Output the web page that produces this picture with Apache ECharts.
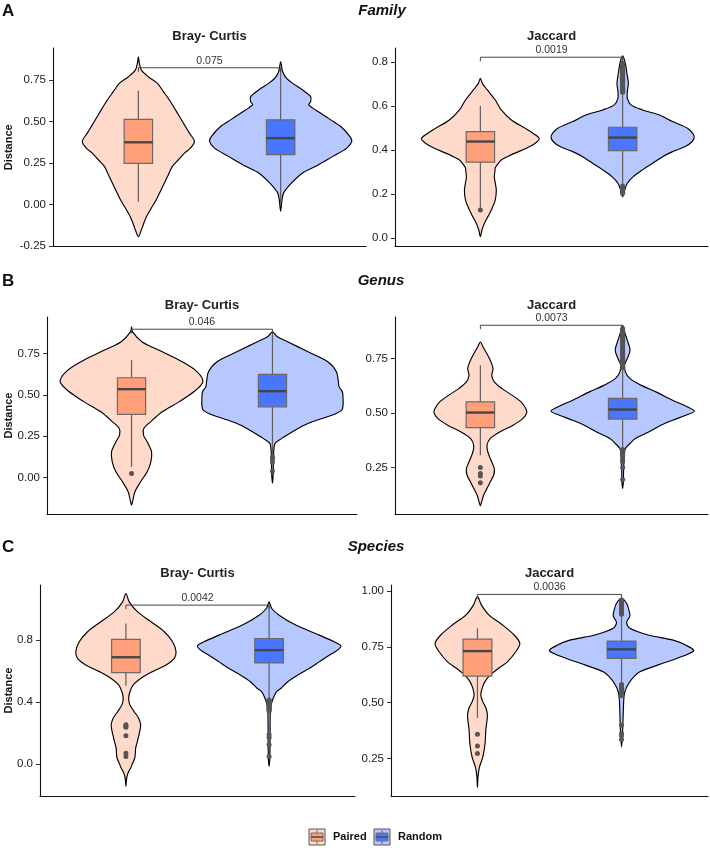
<!DOCTYPE html>
<html><head><meta charset="utf-8">
<script src="https://cdn.jsdelivr.net/npm/echarts@6/dist/echarts.min.js"></script>
<style>html,body{margin:0;padding:0;background:#fff}#c{width:710px;height:848px}</style>
</head><body><div id="c"></div>
<script>
// ---------------- DATA ----------------
const groups = ['Paired', 'Random'];
const rowLetters = ['A', 'B', 'C'];
const rowTitles = ['Family', 'Genus', 'Species'];
const panelNames = ['Bray- Curtis', 'Jaccard', 'Bray- Curtis', 'Jaccard', 'Bray- Curtis', 'Jaccard'];
const pLabels = ['0.075', '0.0019', '0.046', '0.0073', '0.0042', '0.0036'];
const bracketY = [0.824, 0.823, 0.897, 0.903, 1.026, 0.985];
const yTickLabels = [
  ['-0.25', '0.00', '0.25', '0.50', '0.75'],
  ['0.0', '0.2', '0.4', '0.6', '0.8'],
  ['0.00', '0.25', '0.50', '0.75'],
  ['0.25', '0.50', '0.75'],
  ['0.0', '0.4', '0.8'],
  ['0.25', '0.50', '0.75', '1.00']
];
// [lower whisker, Q1, median, Q3, upper whisker]
const boxPaired = [
  [0.017, 0.248, 0.375, 0.513, 0.686],
  [0.135, 0.345, 0.439, 0.484, 0.601],
  [0.064, 0.381, 0.534, 0.603, 0.710],
  [0.306, 0.433, 0.502, 0.551, 0.719],
  [0.504, 0.590, 0.689, 0.804, 0.907],
  [0.432, 0.619, 0.731, 0.785, 0.833]
];
const boxRandom = [
  [0.000, 0.300, 0.400, 0.510, 0.820],
  [0.240, 0.398, 0.457, 0.504, 0.655],
  [0.140, 0.427, 0.522, 0.623, 0.880],
  [0.337, 0.472, 0.516, 0.567, 0.700],
  [0.418, 0.652, 0.735, 0.810, 1.030],
  [0.585, 0.698, 0.739, 0.776, 0.890]
];
const outPaired = [
  [],
  [0.127],
  [0.024],
  [0.250, 0.222, 0.211, 0.179],
  [0.252, 0.245, 0.237, 0.181, 0.069, 0.047],
  [0.359, 0.306, 0.272]
];
const outRandom = [
  [],
  [0.664, 0.668, 0.673, 0.677, 0.682, 0.688, 0.692, 0.697, 0.703, 0.708, 0.712, 0.718, 0.723, 0.728,
   0.733, 0.739, 0.744, 0.748, 0.754, 0.759, 0.764, 0.769, 0.773, 0.778, 0.783, 0.787, 0.792, 0.796,
   0.236, 0.231, 0.227, 0.222, 0.217, 0.212, 0.207, 0.203],
  [0.125, 0.111, 0.091, 0.038],
  [0.708, 0.714, 0.719, 0.725, 0.731, 0.737, 0.742, 0.748, 0.754, 0.759, 0.766, 0.772, 0.777, 0.783,
   0.789, 0.795, 0.801, 0.806, 0.812, 0.818, 0.824, 0.830, 0.836, 0.842, 0.848, 0.853, 0.859, 0.865,
   0.871, 0.876, 0.882, 0.888,
   0.332, 0.327, 0.321, 0.316, 0.310, 0.304, 0.283, 0.276, 0.250, 0.195],
  [0.413, 0.407, 0.401, 0.395, 0.389, 0.382, 0.376, 0.370, 0.364, 0.358, 0.352, 0.346, 0.341,
   0.190, 0.170, 0.123, 0.047],
  [0.896, 0.901, 0.906, 0.912, 0.917, 0.922, 0.927, 0.933, 0.938, 0.943, 0.949, 0.955, 0.960,
   0.581, 0.576, 0.571, 0.566, 0.561, 0.556, 0.551, 0.546, 0.541, 0.536, 0.531,
   0.399, 0.362, 0.352, 0.335]
];
// violin profiles: [distance, half width (x-axis units)]
const violinPaired = [
  [[0.89,0],[0.85,0.007],[0.81,0.021],[0.77,0.070],[0.73,0.134],[0.68,0.176],[0.63,0.218],[0.58,0.254],
   [0.53,0.289],[0.48,0.324],[0.43,0.359],[0.38,0.394],[0.34,0.366],[0.31,0.324],[0.27,0.282],[0.23,0.239],
   [0.18,0.211],[0.13,0.183],[0.08,0.155],[0.03,0.127],[-0.02,0.092],[-0.075,0.056],[-0.12,0.035],
   [-0.16,0.018],[-0.195,0]],
  [[0.727,0],[0.704,0.014],[0.674,0.049],[0.628,0.105],[0.583,0.147],[0.537,0.218],[0.499,0.316],
   [0.476,0.372],[0.453,0.414],[0.431,0.386],[0.408,0.323],[0.385,0.239],[0.370,0.190],[0.355,0.147],
   [0.340,0.126],[0.320,0.105],[0.302,0.102],[0.279,0.098],[0.249,0.105],[0.218,0.112],[0.173,0.105],
   [0.127,0.077],[0.097,0.053],[0.066,0.028],[0.036,0.011],[0.006,0]],
  [[0.911,0],[0.881,0.007],[0.820,0.076],[0.760,0.218],[0.700,0.359],[0.639,0.466],[0.578,0.506],
   [0.518,0.442],[0.457,0.336],[0.397,0.218],[0.336,0.135],[0.296,0.087],[0.256,0.085],[0.215,0.111],
   [0.155,0.142],[0.094,0.137],[0.034,0.111],[-0.027,0.064],[-0.087,0.024],[-0.148,0.007],[-0.168,0]],
  [[0.826,0],[0.803,0.019],[0.765,0.052],[0.734,0.075],[0.704,0.089],[0.673,0.080],[0.643,0.098],
   [0.612,0.152],[0.582,0.222],[0.551,0.286],[0.521,0.319],[0.502,0.326],[0.475,0.300],[0.444,0.230],
   [0.413,0.136],[0.383,0.070],[0.352,0.047],[0.322,0.052],[0.283,0.075],[0.245,0.098],[0.215,0.094],
   [0.184,0.070],[0.154,0.047],[0.123,0.023],[0.092,0.009],[0.074,0]],
  [[1.101,0],[1.047,0.023],[0.982,0.082],[0.918,0.175],[0.854,0.268],[0.789,0.326],[0.725,0.350],
   [0.682,0.338],[0.639,0.280],[0.596,0.186],[0.553,0.105],[0.510,0.051],[0.466,0.028],[0.424,0.019],
   [0.381,0.028],[0.337,0.058],[0.295,0.089],[0.252,0.103],[0.216,0.098],[0.187,0.091],[0.134,0.077],
   [0.101,0.068],[0.042,0.063],[0.0,0.045],[-0.023,0.035],[-0.061,0.014],[-0.10,0.004],[-0.146,0]],
  [[0.975,0],[0.937,0.028],[0.892,0.081],[0.848,0.174],[0.803,0.255],[0.765,0.294],[0.728,0.266],
   [0.683,0.208],[0.653,0.144],[0.623,0.088],[0.593,0.051],[0.564,0.032],[0.534,0.023],[0.504,0.037],
   [0.474,0.060],[0.444,0.069],[0.414,0.065],[0.377,0.058],[0.318,0.053],[0.256,0.037],[0.211,0.014],
   [0.170,0.004],[0.121,0]]
];
const violinRandom = [
  [[0.86,0],[0.80,0.014],[0.76,0.042],[0.73,0.085],[0.69,0.155],[0.65,0.211],[0.62,0.211],[0.60,0.197],
   [0.55,0.282],[0.51,0.352],[0.47,0.423],[0.41,0.486],[0.38,0.500],[0.34,0.465],[0.29,0.366],[0.23,0.246],
   [0.19,0.155],[0.13,0.077],[0.07,0.021],[0.03,0.010],[-0.04,0]],
  [[0.829,0],[0.795,0.019],[0.750,0.030],[0.704,0.040],[0.666,0.033],[0.636,0.033],[0.606,0.059],
   [0.583,0.140],[0.560,0.258],[0.530,0.351],[0.500,0.456],[0.477,0.492],[0.458,0.503],[0.438,0.487],
   [0.416,0.440],[0.393,0.351],[0.370,0.281],[0.340,0.211],[0.310,0.140],[0.279,0.075],[0.249,0.033],
   [0.218,0.014],[0.188,0]],
  [[0.881,0],[0.851,0.035],[0.820,0.111],[0.760,0.253],[0.699,0.395],[0.639,0.454],[0.578,0.468],
   [0.548,0.473],[0.518,0.496],[0.478,0.501],[0.437,0.501],[0.407,0.492],[0.377,0.426],[0.347,0.319],
   [0.316,0.225],[0.276,0.142],[0.236,0.066],[0.206,0.019],[0.155,0.009],[0.094,0.007],[0.014,0.005],
   [-0.036,0]],
  [[0.903,0],[0.872,0.014],[0.834,0.033],[0.788,0.052],[0.750,0.033],[0.722,0.014],[0.689,0.019],
   [0.658,0.052],[0.628,0.129],[0.597,0.234],[0.559,0.351],[0.528,0.457],[0.508,0.504],[0.490,0.445],
   [0.467,0.351],[0.444,0.269],[0.413,0.183],[0.383,0.089],[0.360,0.052],[0.337,0.019],[0.306,0.012],
   [0.245,0.007],[0.184,0.005],[0.154,0]],
  [[1.047,0],[1.004,0.019],[0.961,0.070],[0.897,0.186],[0.832,0.350],[0.789,0.455],[0.763,0.501],
   [0.735,0.478],[0.702,0.420],[0.659,0.350],[0.616,0.280],[0.573,0.198],[0.529,0.128],[0.487,0.082],
   [0.465,0.051],[0.422,0.028],[0.379,0.014],[0.337,0.009],[0.252,0.007],[0.144,0.007],[0.037,0.005],
   [-0.017,0]],
  [[0.967,0],[0.945,0.035],[0.915,0.051],[0.889,0.058],[0.859,0.035],[0.833,0.058],[0.803,0.185],
   [0.780,0.359],[0.758,0.444],[0.732,0.500],[0.698,0.382],[0.668,0.250],[0.638,0.127],[0.608,0.074],
   [0.578,0.042],[0.548,0.023],[0.519,0.016],[0.459,0.012],[0.399,0.009],[0.340,0.005],[0.302,0]]
];

// ---------------- LAYOUT / STYLE ----------------
const FONT = '"Liberation Sans", Arial, Helvetica, sans-serif';
const gridsPx = [
  {left: 53, top: 48, width: 313, height: 198.5},
  {left: 395, top: 48, width: 313, height: 198.5},
  {left: 47, top: 317, width: 310, height: 197},
  {left: 395, top: 317, width: 313, height: 197},
  {left: 40, top: 585, width: 315, height: 211},
  {left: 391, top: 585, width: 317, height: 211}
];
const yMin = [-0.253, -0.039, -0.222, 0.036, -0.208, 0.082];
const yMax = [0.943, 0.865, 0.971, 0.941, 1.156, 1.027];
const violinFill = ['#FFD9CA', '#B6C8FF'];
const boxFill = ['#FFA07A', '#4876FF'];

const grid = [], xAxis = [], yAxis = [], series = [];
for (let p = 0; p < 6; p++) {
  const g = gridsPx[p];
  grid.push({left: g.left, top: g.top, width: g.width, height: g.height, containLabel: false, outerBoundsMode: 'none'});
  xAxis.push({
    type: 'value', gridIndex: p, min: 0.4, max: 2.6,
    axisLine: {show: true, onZero: false, lineStyle: {color: '#111', width: 1.1}},
    axisTick: {show: false}, axisLabel: {show: false}, splitLine: {show: false}
  });
  const tl = yTickLabels[p];
  const tv = tl.map(Number);
  yAxis.push({
    type: 'value', gridIndex: p, min: yMin[p], max: yMax[p],
    axisLine: {show: true, onZero: false, lineStyle: {color: '#111', width: 1.1}},
    axisTick: {show: true, length: 4, customValues: tv, lineStyle: {color: '#333', width: 1}},
    axisLabel: {
      show: true, customValues: tv, margin: 7, color: '#1a1a1a', fontSize: 11.5, fontFamily: FONT,
      formatter: v => { for (let k = 0; k < tv.length; k++) if (Math.abs(tv[k] - v) < 1e-6) return tl[k]; return ''; }
    },
    splitLine: {show: false}
  });
  // violins
  series.push({
    type: 'custom', xAxisIndex: p, yAxisIndex: p, silent: true, z: 2,
    data: groups.map((gname, i) => [i + 1, (i === 0 ? boxPaired : boxRandom)[p][2]]),
    renderItem: (params, api) => {
      const i = params.dataIndex;
      const prof = (i === 0 ? violinPaired : violinRandom)[p];
      const xc = api.value(0);
      const pts = prof.map(d => api.coord([xc + d[1], d[0]]));
      for (let k = prof.length - 1; k >= 0; k--) {
        if (prof[k][1] > 0) pts.push(api.coord([xc - prof[k][1], prof[k][0]]));
      }
      return {type: 'polygon', shape: {points: pts, smooth: 0.3},
        style: {fill: violinFill[i], stroke: '#000', lineWidth: 1.15}};
    }
  });
  // boxes
  series.push({
    type: 'custom', xAxisIndex: p, yAxisIndex: p, silent: true, z: 3,
    data: [[1].concat(boxPaired[p]), [2].concat(boxRandom[p])],
    renderItem: (params, api) => {
      const i = params.dataIndex;
      const x = api.value(0), lo = api.value(1), q1 = api.value(2), md = api.value(3), q3 = api.value(4), hi = api.value(5);
      const bw = 0.1;
      const pLo = api.coord([x, lo]), pQ1 = api.coord([x, q1]), pQ3 = api.coord([x, q3]), pHi = api.coord([x, hi]);
      const a = api.coord([x - bw, q3]), b = api.coord([x + bw, q1]);
      const ml = api.coord([x - bw, md]), mr = api.coord([x + bw, md]);
      return {type: 'group', children: [
        {type: 'line', shape: {x1: pLo[0], y1: pLo[1], x2: pQ1[0], y2: pQ1[1]}, style: {stroke: '#5e5e5e', lineWidth: 1.2}},
        {type: 'line', shape: {x1: pQ3[0], y1: pQ3[1], x2: pHi[0], y2: pHi[1]}, style: {stroke: '#5e5e5e', lineWidth: 1.2}},
        {type: 'rect', shape: {x: a[0], y: a[1], width: b[0] - a[0], height: b[1] - a[1]},
          style: {fill: boxFill[i], stroke: '#6a6a6a', lineWidth: 1.2}},
        {type: 'line', shape: {x1: ml[0], y1: ml[1], x2: mr[0], y2: mr[1]}, style: {stroke: '#454545', lineWidth: 2.4}}
      ]};
    }
  });
  // outliers
  series.push({
    type: 'scatter', xAxisIndex: p, yAxisIndex: p, silent: true, z: 4,
    symbol: 'circle', symbolSize: 5, itemStyle: {color: '#555', opacity: 1},
    data: outPaired[p].map(v => [1, v]).concat(outRandom[p].map(v => [2, v]))
  });
  // significance bracket
  series.push({
    type: 'custom', xAxisIndex: p, yAxisIndex: p, silent: true, z: 5,
    data: [[1, 2, bracketY[p]]],
    renderItem: (params, api) => {
      const a = api.coord([api.value(0), api.value(2)]);
      const b = api.coord([api.value(1), api.value(2)]);
      return {type: 'group', children: [
        {type: 'polyline', shape: {points: [[a[0], a[1] + 4], [a[0], a[1]], [b[0], b[1]], [b[0], b[1] + 4]]},
          style: {stroke: '#444', lineWidth: 1, fill: null}},
        {type: 'text', x: (a[0] + b[0]) / 2, y: a[1] - 1.5,
          style: {text: pLabels[p], fill: '#333', fontSize: 10.5, fontFamily: FONT,
            align: 'center', verticalAlign: 'bottom', textAlign: 'center', textVerticalAlign: 'bottom'}}
      ]};
    }
  });
}

// text graphics (titles, labels, legend)
const graphic = [];
const rowLetterY = [11, 281, 547];
const rowTitleX = [382, 381, 376];
for (let r = 0; r < 3; r++) {
  graphic.push({type: 'text', x: 2, y: rowLetterY[r],
    style: {text: rowLetters[r], font: 'bold 17px ' + FONT, fill: '#111', align: 'left', verticalAlign: 'middle', textAlign: 'left', textVerticalAlign: 'middle'}});
  graphic.push({type: 'text', x: rowTitleX[r], y: rowLetterY[r],
    style: {text: rowTitles[r], font: 'italic bold 15px ' + FONT, fill: '#111', align: 'center', verticalAlign: 'middle', textAlign: 'center', textVerticalAlign: 'middle'}});
}
for (let p = 0; p < 6; p++) {
  const g = gridsPx[p];
  graphic.push({type: 'text', x: g.left + g.width / 2, y: g.top - 12,
    style: {text: panelNames[p], font: 'bold 13px ' + FONT, fill: '#222', align: 'center', verticalAlign: 'middle', textAlign: 'center', textVerticalAlign: 'middle'}});
  if (p % 2 === 0) {
    graphic.push({type: 'text', x: 9, y: g.top + g.height / 2, rotation: Math.PI / 2,
      style: {text: 'Distance', font: 'bold 11px ' + FONT, fill: '#111', align: 'center', verticalAlign: 'middle', textAlign: 'center', textVerticalAlign: 'middle'}});
  }
}
// legend
const legendX = [309, 374];
groups.forEach((gname, i) => {
  const x0 = legendX[i], y0 = 829;
  graphic.push({type: 'rect', shape: {x: x0, y: y0, width: 16, height: 16}, style: {fill: violinFill[i], stroke: '#555', lineWidth: 1}});
  graphic.push({type: 'rect', shape: {x: x0 + 2, y: y0 + 4, width: 12, height: 8}, style: {fill: boxFill[i], stroke: '#707070', lineWidth: 1}});
  graphic.push({type: 'line', shape: {x1: x0 + 8, y1: y0 + 1, x2: x0 + 8, y2: y0 + 4}, style: {stroke: '#666', lineWidth: 1}});
  graphic.push({type: 'line', shape: {x1: x0 + 8, y1: y0 + 12, x2: x0 + 8, y2: y0 + 15}, style: {stroke: '#666', lineWidth: 1}});
  graphic.push({type: 'line', shape: {x1: x0 + 2, y1: y0 + 8, x2: x0 + 14, y2: y0 + 8}, style: {stroke: '#4a4a4a', lineWidth: 1.5}});
  graphic.push({type: 'text', x: x0 + 24, y: y0 + 8,
    style: {text: gname, font: 'bold 11px ' + FONT, fill: '#111', align: 'left', verticalAlign: 'middle', textAlign: 'left', textVerticalAlign: 'middle'}});
});

const chart = echarts.init(document.getElementById('c'), null, {renderer: 'canvas'});
chart.setOption({
  animation: false,
  backgroundColor: '#fff',
  grid, xAxis, yAxis, series, graphic
});
</script></body></html>
